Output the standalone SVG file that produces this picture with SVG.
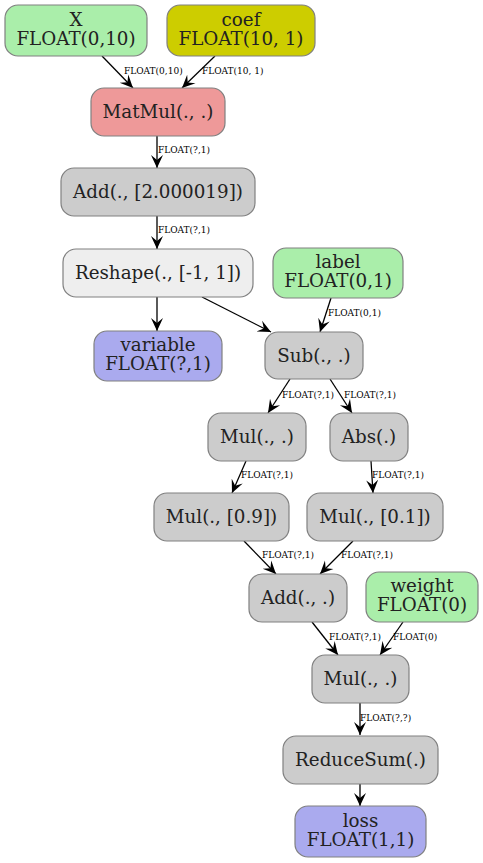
<svg xmlns="http://www.w3.org/2000/svg" width="483" height="863" viewBox="0 0 483 863">
<style>
.n{stroke:#808080;stroke-width:1.2}
.in{fill:#aaeeaa}
.co{fill:#cdcd00}
.mm{fill:#ee9999}
.op{fill:#cccccc}
.rs{fill:#eeeeee}
.out{fill:#aaaaee}
.t{font-family:"DejaVu Serif",serif;font-size:18.3px;fill:#222;text-anchor:middle}
.e{stroke:#000;stroke-width:1.3;fill:none;marker-end:url(#a)}
.l{font-family:"DejaVu Serif",serif;font-size:9px;fill:#000}
</style>
<defs>
<marker id="a" markerUnits="userSpaceOnUse" markerWidth="14" markerHeight="14" viewBox="0 0 14 14" refX="13" refY="7" orient="auto">
<path d="M0,1 L13,7 L0,13 L5,7 Z" fill="#000"/>
</marker>
</defs>
<rect width="483" height="863" fill="#fff"/>
<g id="connectors">
<line class="e" x1="102" y1="56" x2="133" y2="88"/>
<line class="e" x1="215" y1="56" x2="182" y2="88"/>
<line class="e" x1="157" y1="136" x2="157" y2="168"/>
<line class="e" x1="157" y1="216" x2="157" y2="249"/>
<line class="e" x1="157" y1="297" x2="157" y2="331"/>
<line class="e" x1="202" y1="297" x2="271" y2="332"/>
<line class="e" x1="331" y1="298" x2="320" y2="332"/>
<line class="e" x1="290" y1="379" x2="268" y2="413"/>
<line class="e" x1="330" y1="379" x2="352" y2="413"/>
<line class="e" x1="246" y1="461" x2="232" y2="493"/>
<line class="e" x1="371" y1="461" x2="373" y2="493"/>
<line class="e" x1="244" y1="541" x2="276" y2="574"/>
<line class="e" x1="353" y1="541" x2="320" y2="574"/>
<line class="e" x1="312" y1="622" x2="338" y2="655"/>
<line class="e" x1="403" y1="622" x2="380" y2="655"/>
<line class="e" x1="360" y1="703" x2="360" y2="735"/>
<line class="e" x1="360" y1="784" x2="360" y2="806"/>
<text class="l" x="124" y="74">FLOAT(0,10)</text>
<text class="l" x="202" y="74">FLOAT(10, 1)</text>
<text class="l" x="158" y="153">FLOAT(?,1)</text>
<text class="l" x="158" y="233">FLOAT(?,1)</text>
<text class="l" x="328" y="316">FLOAT(0,1)</text>
<text class="l" x="282" y="398">FLOAT(?,1)</text>
<text class="l" x="344" y="398">FLOAT(?,1)</text>
<text class="l" x="241" y="478">FLOAT(?,1)</text>
<text class="l" x="372" y="478">FLOAT(?,1)</text>
<text class="l" x="262" y="558">FLOAT(?,1)</text>
<text class="l" x="341" y="558">FLOAT(?,1)</text>
<text class="l" x="329" y="640">FLOAT(?,1)</text>
<text class="l" x="393" y="640">FLOAT(0)</text>
<text class="l" x="360" y="721">FLOAT(?,?)</text>
</g>
<g id="X"><rect class="n in" x="5" y="5" width="142" height="51" rx="13"/><text class="t" x="76" y="26">X</text><text class="t" x="76" y="45">FLOAT(0,10)</text></g>
<g id="coef"><rect class="n co" x="167" y="5" width="148" height="51" rx="13"/><text class="t" x="241" y="26">coef</text><text class="t" x="241" y="45">FLOAT(10, 1)</text></g>
<g id="matmul"><rect class="n mm" x="91" y="88" width="134" height="48" rx="13"/><text class="t" x="158" y="118">MatMul(., .)</text></g>
<g id="add1"><rect class="n op" x="61" y="168" width="194" height="48" rx="13"/><text class="t" x="158" y="198">Add(., [2.000019])</text></g>
<g id="reshape"><rect class="n rs" x="63" y="249" width="190" height="48" rx="13"/><text class="t" x="158" y="279">Reshape(., [-1, 1])</text></g>
<g id="label"><rect class="n in" x="273" y="248" width="130" height="50" rx="13"/><text class="t" x="338" y="268">label</text><text class="t" x="338" y="287">FLOAT(0,1)</text></g>
<g id="variable"><rect class="n out" x="94" y="331" width="128" height="50" rx="13"/><text class="t" x="158" y="351">variable</text><text class="t" x="158" y="370">FLOAT(?,1)</text></g>
<g id="sub"><rect class="n op" x="265" y="332" width="98" height="47" rx="13"/><text class="t" x="314" y="362">Sub(., .)</text></g>
<g id="mul1"><rect class="n op" x="208" y="413" width="98" height="48" rx="13"/><text class="t" x="257" y="443">Mul(., .)</text></g>
<g id="abs"><rect class="n op" x="330" y="413" width="78" height="48" rx="13"/><text class="t" x="369" y="443">Abs(.)</text></g>
<g id="mul09"><rect class="n op" x="154" y="493" width="135" height="48" rx="13"/><text class="t" x="221.5" y="523">Mul(., [0.9])</text></g>
<g id="mul01"><rect class="n op" x="307" y="493" width="136" height="48" rx="13"/><text class="t" x="375" y="523">Mul(., [0.1])</text></g>
<g id="add2"><rect class="n op" x="249" y="574" width="98" height="48" rx="13"/><text class="t" x="298" y="604">Add(., .)</text></g>
<g id="weight"><rect class="n in" x="366" y="572" width="112" height="50" rx="13"/><text class="t" x="422" y="592">weight</text><text class="t" x="422" y="611">FLOAT(0)</text></g>
<g id="mul2"><rect class="n op" x="312" y="655" width="97" height="48" rx="13"/><text class="t" x="360.5" y="685">Mul(., .)</text></g>
<g id="reducesum"><rect class="n op" x="283" y="736" width="155" height="48" rx="13"/><text class="t" x="360.5" y="766">ReduceSum(.)</text></g>
<g id="loss"><rect class="n out" x="295" y="806" width="131" height="51" rx="13"/><text class="t" x="360.5" y="827">loss</text><text class="t" x="360.5" y="846">FLOAT(1,1)</text></g>
</svg>
